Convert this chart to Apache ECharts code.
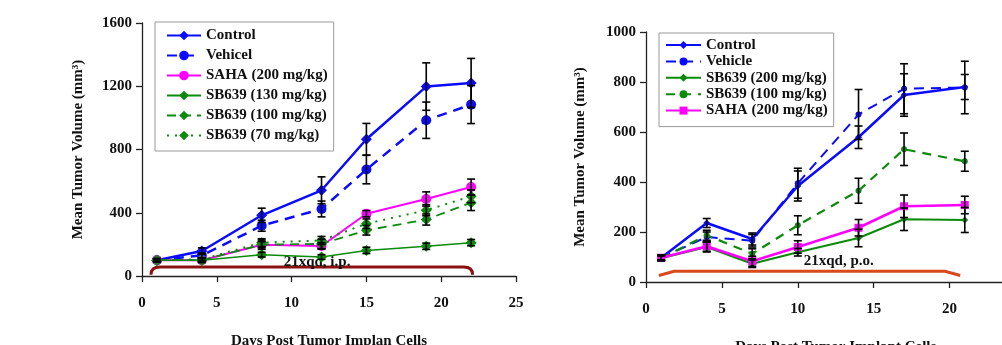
<!DOCTYPE html>
<html>
<head>
<meta charset="utf-8">
<script src="https://cdn.jsdelivr.net/npm/echarts@6/dist/echarts.min.js"></script>
<style>
html,body{margin:0;padding:0;background:#fff;}
#c{width:1002px;height:345px;}
</style>
</head>
<body>
<div id="c"></div>
<script>
// ---------- Left chart (i.p.) ----------
const daysL = [1, 4, 8, 12, 15, 19, 22];
const controlL = [100, 158, 384, 542, 865, 1198, 1221];
const controlErrL = [10, 20, 45, 85, 100, 150, 155];
const vehicleL = [100, 130, 318, 424, 673, 985, 1084];
const vehicleErrL = [10, 15, 35, 50, 90, 115, 120];
const sahaL = [100, 100, 198, 190, 394, 487, 563];
const sahaErrL = [8, 10, 20, 20, 20, 45, 50];
const sb130L = [100, 100, 135, 120, 162, 188, 211];
const sb130ErrL = [8, 10, 15, 15, 20, 20, 20];
const sb100L = [100, 100, 198, 203, 289, 357, 464];
const sb100ErrL = [8, 15, 30, 30, 30, 35, 50];
const sb70L = [100, 105, 211, 225, 331, 416, 504];
const sb70ErrL = [8, 10, 25, 25, 30, 35, 40];
const yTicksL = [0, 400, 800, 1200, 1600];
const xTicks = [0, 5, 10, 15, 20, 25];
const bracketL = [0.6, 22.1, 57];
const noteL = { text: '21xqd, i.p.', day: 11.7, value: 85 };

// ---------- Right chart (p.o.) ----------
const daysR = [1, 4, 7, 10, 14, 17, 21];
const controlR = [97, 236, 172, 384, 579, 748, 780];
const controlErrR = [10, 18, 24, 60, 45, 85, 50];
const vehicleR = [97, 180, 165, 395, 670, 773, 778];
const vehicleErrR = [10, 20, 25, 60, 100, 100, 105];
const sb200R = [95, 140, 73, 119, 176, 251, 248];
const sb200ErrR = [10, 20, 15, 15, 35, 45, 50];
const sb100R = [95, 187, 113, 227, 365, 531, 483];
const sb100ErrR = [10, 20, 20, 38, 50, 65, 40];
const sahaR = [97, 143, 83, 140, 217, 303, 308];
const sahaErrR = [10, 20, 20, 25, 33, 45, 35];
const yTicksR = [0, 200, 400, 600, 800, 1000];
const bracketR = [0.85, 20.7, 43];
const noteR = { text: '21xqd, p.o.', day: 12.7, value: 83 };

const FONT = '"Liberation Serif","Times New Roman",serif';
const BLUE = '#0a0aff', MAG = '#ff00ff', GREEN = '#0b8a0b';

function pts(days, vals) { return days.map((d, i) => [d, vals[i]]); }

function lineSeries(name, days, vals, idx, color, width, type, symbol, size) {
  return {
    type: 'line', name: name, xAxisIndex: idx, yAxisIndex: idx,
    data: pts(days, vals), symbol: symbol, symbolSize: size,
    itemStyle: { color: color }, lineStyle: { color: color, width: width, type: type },
    z: 3, animation: false
  };
}

function errSeries(days, vals, errs, idx) {
  return {
    type: 'custom', xAxisIndex: idx, yAxisIndex: idx, z: 4, animation: false, silent: true,
    data: days.map((d, i) => [d, vals[i] - errs[i], vals[i] + errs[i]]),
    renderItem: function (params, api) {
      const lo = api.coord([api.value(0), api.value(1)]);
      const hi = api.coord([api.value(0), api.value(2)]);
      const w = 4;
      const st = { stroke: '#000', lineWidth: 1.6, fill: null };
      return {
        type: 'group', children: [
          { type: 'line', shape: { x1: lo[0], y1: lo[1], x2: hi[0], y2: hi[1] }, style: st },
          { type: 'line', shape: { x1: lo[0] - w, y1: lo[1], x2: lo[0] + w, y2: lo[1] }, style: st },
          { type: 'line', shape: { x1: hi[0] - w, y1: hi[1], x2: hi[0] + w, y2: hi[1] }, style: st }
        ]
      };
    }
  };
}

function bracketSeries(br, note, idx, color, curved) {
  return {
    type: 'custom', xAxisIndex: idx, yAxisIndex: idx, z: 2, animation: false, silent: true,
    data: [[br[0], br[1], br[2]]],
    renderItem: function (params, api) {
      const a = api.value(0), b = api.value(1), lv = api.value(2);
      const p0 = api.coord([a, lv * 0.15]);
      const p1 = api.coord([a + (curved ? 0.6 : 1.0), lv]);
      const p2 = api.coord([b - (curved ? 0.6 : 1.0), lv]);
      const p3 = api.coord([b, lv * 0.15]);
      const ca = api.coord([a, lv]);
      const cb = api.coord([b, lv]);
      let d;
      if (curved) {
        d = 'M' + p0[0] + ' ' + p0[1] + ' Q' + ca[0] + ' ' + ca[1] + ' ' + p1[0] + ' ' + p1[1] +
            ' L' + p2[0] + ' ' + p2[1] + ' Q' + cb[0] + ' ' + cb[1] + ' ' + p3[0] + ' ' + p3[1];
      } else {
        const q0 = api.coord([a, lv * 0.6]);
        const q3 = api.coord([b, lv * 0.6]);
        d = 'M' + q0[0] + ' ' + q0[1] + ' L' + p1[0] + ' ' + p1[1] +
            ' L' + p2[0] + ' ' + p2[1] + ' L' + q3[0] + ' ' + q3[1];
      }
      const tp = api.coord([note.day, note.value]);
      return {
        type: 'group', children: [
          { type: 'path', shape: { pathData: d }, style: { stroke: color, lineWidth: 3, fill: null } },
          { type: 'text', x: tp[0], y: tp[1], style: { text: note.text, fill: '#111', font: 'bold 15px ' + FONT, align: 'center', verticalAlign: 'middle' } }
        ]
      };
    }
  };
}

const axisLabel = { color: '#111', fontFamily: FONT, fontWeight: 'bold', fontSize: 15, formatter: function (v) { return String(v); } };
const axisLine = { show: true, lineStyle: { color: '#222', width: 1.3 } };
const axisTick = { show: true, inside: false, length: 6, lineStyle: { color: '#222', width: 1.3 } };
const nameStyle = { color: '#111', fontFamily: FONT, fontWeight: 'bold', fontSize: 15 };

function xAx(idx, name) {
  return {
    type: 'value', gridIndex: idx, min: xTicks[0], max: xTicks[xTicks.length - 1], interval: 5,
    axisLine: axisLine, axisTick: axisTick, splitLine: { show: false },
    axisLabel: Object.assign({ margin: 20 }, axisLabel),
    name: name, nameLocation: 'middle', nameGap: 58, nameTextStyle: nameStyle
  };
}
function yAx(idx, ticks, gap) {
  return {
    type: 'value', gridIndex: idx, min: ticks[0], max: ticks[ticks.length - 1], interval: ticks[1] - ticks[0],
    axisLine: axisLine, axisTick: axisTick, splitLine: { show: false },
    axisLabel: Object.assign({ margin: 10 }, axisLabel),
    name: 'Mean Tumor Volume (mm\u00B3)', nameLocation: 'middle', nameGap: gap, nameTextStyle: nameStyle
  };
}

const Z = '\u200B';
const legendText = { color: '#111', fontFamily: FONT, fontWeight: 'bold', fontSize: 15 };

const option = {
  backgroundColor: '#fff',
  animation: false,
  grid: [
    { left: 142, top: 23, width: 374, height: 253, outerBoundsMode: 'none', containLabel: false },
    { left: 646, top: 32, width: 379.5, height: 250, outerBoundsMode: 'none', containLabel: false }
  ],
  xAxis: [xAx(0, 'Days Post Tumor Implan Cells'), xAx(1, 'Days Post Tumor Implant Cells')],
  yAxis: [yAx(0, yTicksL, 56), yAx(1, yTicksR, 58)],
  legend: [
    {
      orient: 'vertical', left: 155, top: 22, itemWidth: 34, itemHeight: 12, itemGap: 5,
      padding: [6, 6, 8, 11], borderColor: '#999', borderWidth: 1, backgroundColor: '#fff',
      textStyle: legendText,
      data: ['Control', 'Vehicel', 'SAHA (200 mg/kg)', 'SB639 (130 mg/kg)', 'SB639 (100 mg/kg)', 'SB639 (70 mg/kg)']
    },
    {
      orient: 'vertical', left: 659, top: 33, itemWidth: 35, itemHeight: 10, itemGap: 0.4,
      padding: [4, 6, 8, 6], borderColor: '#999', borderWidth: 1, backgroundColor: '#fff',
      textStyle: Object.assign({ lineHeight: 16 }, legendText),
      data: ['Control' + Z, 'Vehicle', 'SB639 (200 mg/kg)', 'SB639 (100 mg/kg)' + Z, 'SAHA (200 mg/kg)' + Z]
    }
  ],
  series: [
    bracketSeries(bracketL, noteL, 0, '#8b1010', true),
    bracketSeries(bracketR, noteR, 1, '#d84a1b', false),
    errSeries(daysL, controlL, controlErrL, 0),
    errSeries(daysL, vehicleL, vehicleErrL, 0),
    errSeries(daysL, sahaL, sahaErrL, 0),
    errSeries(daysL, sb130L, sb130ErrL, 0),
    errSeries(daysL, sb100L, sb100ErrL, 0),
    errSeries(daysL, sb70L, sb70ErrL, 0),
    lineSeries('Control', daysL, controlL, 0, BLUE, 2.5, 'solid', 'diamond', 11),
    lineSeries('Vehicel', daysL, vehicleL, 0, BLUE, 2.5, [10, 7], 'circle', 10),
    lineSeries('SAHA (200 mg/kg)', daysL, sahaL, 0, MAG, 2, 'solid', 'circle', 10),
    lineSeries('SB639 (130 mg/kg)', daysL, sb130L, 0, GREEN, 1.5, 'solid', 'diamond', 11),
    lineSeries('SB639 (100 mg/kg)', daysL, sb100L, 0, GREEN, 1.8, [9, 6], 'diamond', 11),
    lineSeries('SB639 (70 mg/kg)', daysL, sb70L, 0, GREEN, 2, [2, 6], 'diamond', 11),
    errSeries(daysR, controlR, controlErrR, 1),
    errSeries(daysR, vehicleR, vehicleErrR, 1),
    errSeries(daysR, sb200R, sb200ErrR, 1),
    errSeries(daysR, sb100R, sb100ErrR, 1),
    errSeries(daysR, sahaR, sahaErrR, 1),
    lineSeries('Control' + Z, daysR, controlR, 1, BLUE, 2.5, 'solid', 'diamond', 7),
    lineSeries('Vehicle', daysR, vehicleR, 1, BLUE, 2, [10, 7], 'circle', 6),
    lineSeries('SB639 (200 mg/kg)', daysR, sb200R, 1, GREEN, 2, 'solid', 'diamond', 7),
    lineSeries('SB639 (100 mg/kg)' + Z, daysR, sb100R, 1, GREEN, 2.2, [9, 7], 'circle', 6),
    lineSeries('SAHA (200 mg/kg)' + Z, daysR, sahaR, 1, MAG, 2.5, 'solid', 'rect', 8)
  ]
};

const chart = echarts.init(document.getElementById('c'), null, { renderer: 'canvas' });
chart.setOption(option);
</script>
</body>
</html>
